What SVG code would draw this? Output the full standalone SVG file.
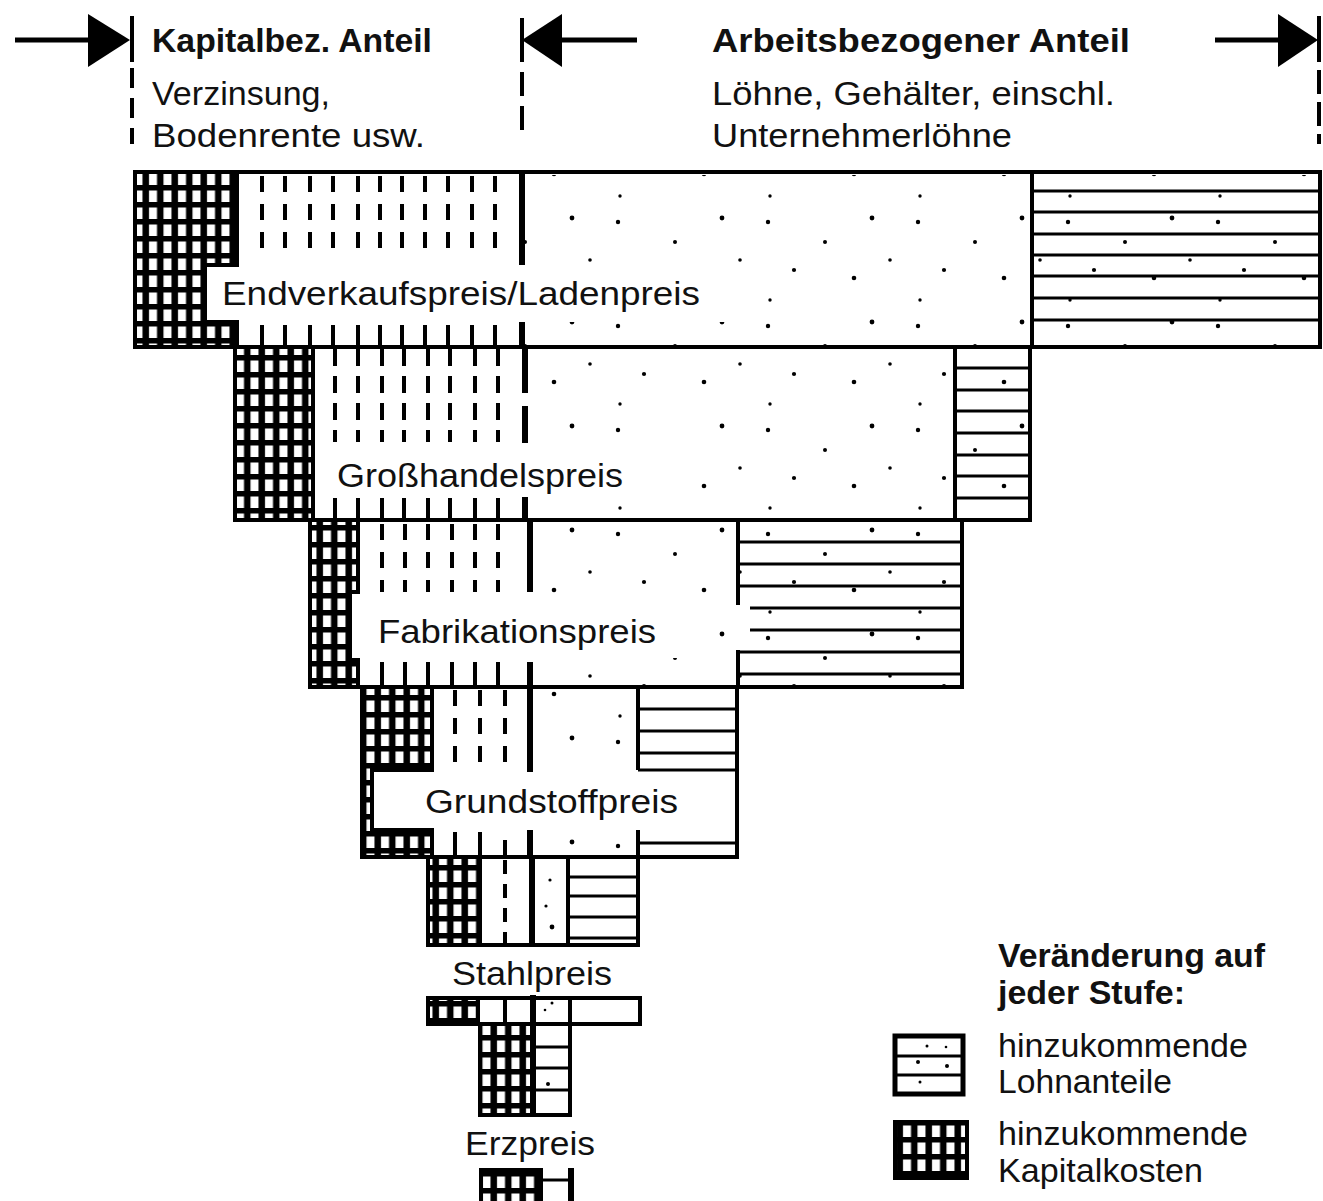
<svg xmlns="http://www.w3.org/2000/svg" width="1323" height="1201" viewBox="0 0 1323 1201">
<style>
text{font-family:"Liberation Sans",Arial,sans-serif;fill:#111;}
.t{font-size:33px;}
.b{font-size:33px;font-weight:bold;}
.lbl{font-size:34px;}
.box{fill:none;stroke:#000;stroke-width:4;}
.gridf{fill:url(#grid);stroke:#000;stroke-width:4;}
.dash{stroke:#000;stroke-width:4;stroke-dasharray:16 12;}
.dsolid{stroke:#000;stroke-width:4;}
.thick{stroke:#000;stroke-width:6;}
.vl{stroke:#000;stroke-width:4;}
.hl{stroke:#000;stroke-width:3;}
.dots{fill:url(#dots);}
.wh{fill:#fff;}
</style>
<defs>
<pattern id="grid" patternUnits="userSpaceOnUse" width="14.5" height="17">
<rect width="14.5" height="17" fill="#000"/>
<rect x="4" y="3.5" width="8" height="11.5" fill="#fff"/>
</pattern>
<pattern id="dots" patternUnits="userSpaceOnUse" width="150" height="104">
<rect width="150" height="104" fill="#fff"/>
<circle cx="18" cy="14" r="2.2" fill="#000"/>
<circle cx="75" cy="34" r="2" fill="#000"/>
<circle cx="122" cy="10" r="2.4" fill="#000"/>
<circle cx="44" cy="62" r="2.1" fill="#000"/>
<circle cx="104" cy="70" r="2.3" fill="#000"/>
<circle cx="20" cy="92" r="1.7" fill="#000"/>
<circle cx="140" cy="52" r="1.8" fill="#000"/>
</pattern>
</defs>
<rect width="1323" height="1201" fill="#fff"/>

<g id="connectors">
<line x1="15" y1="40" x2="92" y2="40" stroke="#000" stroke-width="5"/>
<polygon points="88,14 88,67 130,40" fill="#000"/>
<line x1="132" y1="16" x2="132" y2="62" stroke="#000" stroke-width="4"/>
<line x1="132" y1="68" x2="132" y2="144" stroke="#000" stroke-width="4" stroke-dasharray="20 10"/>
<line x1="558" y1="40" x2="637" y2="40" stroke="#000" stroke-width="5"/>
<polygon points="562,14 562,67 522,40" fill="#000"/>
<line x1="522" y1="18" x2="522" y2="62" stroke="#000" stroke-width="4"/>
<line x1="522" y1="72" x2="522" y2="135" stroke="#000" stroke-width="4" stroke-dasharray="24 10"/>
<line x1="1215" y1="40" x2="1282" y2="40" stroke="#000" stroke-width="5"/>
<polygon points="1278,14 1278,67 1318,40" fill="#000"/>
<line x1="1319" y1="16" x2="1319" y2="62" stroke="#000" stroke-width="4"/>
<line x1="1319" y1="70" x2="1319" y2="144" stroke="#000" stroke-width="4" stroke-dasharray="24 8"/>
</g>

<g id="header">
<text class="b" x="152" y="52" textLength="280" lengthAdjust="spacingAndGlyphs">Kapitalbez. Anteil</text>
<text class="t" x="152" y="105" textLength="178" lengthAdjust="spacingAndGlyphs">Verzinsung,</text>
<text class="t" x="152" y="147" textLength="273" lengthAdjust="spacingAndGlyphs">Bodenrente usw.</text>
<text class="b" x="712" y="52" textLength="418" lengthAdjust="spacingAndGlyphs">Arbeitsbezogener Anteil</text>
<text class="t" x="712" y="105" textLength="403" lengthAdjust="spacingAndGlyphs">Löhne, Gehälter, einschl.</text>
<text class="t" x="712" y="147" textLength="300" lengthAdjust="spacingAndGlyphs">Unternehmerlöhne</text>
</g>

<g id="stage-endverkaufspreis">
<rect x="135" y="172" width="1185" height="175" fill="#fff"/>
<rect class="dots" x="525" y="175" width="792" height="170"/>
<rect class="wh" x="205" y="266" width="520" height="56"/>
<polygon class="gridf" points="135,172 237,172 237,265 205,265 205,322 237,322 237,347 135,347"/>
<g class="dash">
<line x1="262" y1="176" x2="262" y2="250"/><line x1="285" y1="176" x2="285" y2="250"/><line x1="310" y1="176" x2="310" y2="250"/><line x1="333" y1="176" x2="333" y2="250"/><line x1="358" y1="176" x2="358" y2="250"/><line x1="380" y1="176" x2="380" y2="250"/><line x1="402" y1="176" x2="402" y2="250"/><line x1="425" y1="176" x2="425" y2="250"/><line x1="448" y1="176" x2="448" y2="250"/><line x1="472" y1="176" x2="472" y2="250"/><line x1="495" y1="176" x2="495" y2="250"/>
</g>
<g class="dsolid">
<line x1="262" y1="325" x2="262" y2="347"/><line x1="285" y1="325" x2="285" y2="347"/><line x1="310" y1="325" x2="310" y2="347"/><line x1="333" y1="325" x2="333" y2="347"/><line x1="358" y1="325" x2="358" y2="347"/><line x1="380" y1="325" x2="380" y2="347"/><line x1="402" y1="325" x2="402" y2="347"/><line x1="425" y1="325" x2="425" y2="347"/><line x1="448" y1="325" x2="448" y2="347"/><line x1="472" y1="325" x2="472" y2="347"/><line x1="495" y1="325" x2="495" y2="347"/>
</g>
<line class="thick" x1="522" y1="172" x2="522" y2="265"/>
<line class="thick" x1="522" y1="322" x2="522" y2="347"/>
<line class="vl" x1="1032" y1="172" x2="1032" y2="347"/>
<g class="hl">
<line x1="1032" y1="191" x2="1320" y2="191"/><line x1="1032" y1="212" x2="1320" y2="212"/><line x1="1032" y1="234" x2="1320" y2="234"/><line x1="1032" y1="255" x2="1320" y2="255"/><line x1="1032" y1="276" x2="1320" y2="276"/><line x1="1032" y1="298" x2="1320" y2="298"/><line x1="1032" y1="320" x2="1320" y2="320"/>
</g>
<rect class="box" x="135" y="172" width="1185" height="175"/>
<text class="lbl" x="222" y="305" textLength="478" lengthAdjust="spacingAndGlyphs">Endverkaufspreis/Ladenpreis</text>
</g>

<g id="stage-grosshandelspreis">
<rect x="235" y="347" width="795" height="173" fill="#fff"/>
<rect class="dots" x="527" y="350" width="500" height="168"/>
<rect class="wh" x="313" y="446" width="370" height="50"/>
<rect class="gridf" x="235" y="347" width="78" height="173"/>
<g class="dash" style="stroke-dasharray:17 10">
<line x1="335" y1="349" x2="335" y2="442"/><line x1="358" y1="349" x2="358" y2="442"/><line x1="382" y1="349" x2="382" y2="442"/><line x1="404" y1="349" x2="404" y2="442"/><line x1="428" y1="349" x2="428" y2="442"/><line x1="450" y1="349" x2="450" y2="442"/><line x1="475" y1="349" x2="475" y2="442"/><line x1="498" y1="349" x2="498" y2="442"/>
</g>
<g class="dsolid">
<line x1="335" y1="498" x2="335" y2="520"/><line x1="358" y1="498" x2="358" y2="520"/><line x1="382" y1="498" x2="382" y2="520"/><line x1="404" y1="498" x2="404" y2="520"/><line x1="428" y1="498" x2="428" y2="520"/><line x1="450" y1="498" x2="450" y2="520"/><line x1="475" y1="498" x2="475" y2="520"/><line x1="498" y1="498" x2="498" y2="520"/>
</g>
<line class="thick" x1="525" y1="347" x2="525" y2="393"/>
<line class="thick" x1="525" y1="406" x2="525" y2="443"/>
<line class="thick" x1="525" y1="497" x2="525" y2="520"/>
<line class="vl" x1="955" y1="347" x2="955" y2="520"/>
<g class="hl">
<line x1="955" y1="368" x2="1030" y2="368"/><line x1="955" y1="390" x2="1030" y2="390"/><line x1="955" y1="411" x2="1030" y2="411"/><line x1="955" y1="433" x2="1030" y2="433"/><line x1="955" y1="455" x2="1030" y2="455"/><line x1="955" y1="476" x2="1030" y2="476"/><line x1="955" y1="498" x2="1030" y2="498"/>
</g>
<rect class="box" x="235" y="347" width="795" height="173"/>
<text class="lbl" x="337" y="487" textLength="286" lengthAdjust="spacingAndGlyphs">Großhandelspreis</text>
</g>

<g id="stage-fabrikationspreis">
<rect x="310" y="520" width="652" height="167" fill="#fff"/>
<rect class="dots" x="532" y="523" width="428" height="162"/>
<rect class="wh" x="352" y="596" width="330" height="62"/>
<polygon class="gridf" points="310,520 358,520 358,592 350,592 350,660 358,660 358,687 310,687"/>
<g class="dash">
<line x1="382" y1="524" x2="382" y2="592"/><line x1="405" y1="524" x2="405" y2="592"/><line x1="428" y1="524" x2="428" y2="592"/><line x1="452" y1="524" x2="452" y2="592"/><line x1="475" y1="524" x2="475" y2="592"/><line x1="498" y1="524" x2="498" y2="592"/>
</g>
<g class="dsolid">
<line x1="382" y1="662" x2="382" y2="687"/><line x1="405" y1="662" x2="405" y2="687"/><line x1="428" y1="662" x2="428" y2="687"/><line x1="452" y1="662" x2="452" y2="687"/><line x1="475" y1="662" x2="475" y2="687"/><line x1="498" y1="662" x2="498" y2="687"/>
</g>
<line class="thick" x1="530" y1="520" x2="530" y2="592"/>
<line class="thick" x1="530" y1="662" x2="530" y2="687"/>
<line class="vl" x1="738" y1="520" x2="738" y2="605"/>
<line class="vl" x1="738" y1="650" x2="738" y2="687"/>
<g class="hl">
<line x1="738" y1="542" x2="962" y2="542"/><line x1="738" y1="564" x2="962" y2="564"/><line x1="738" y1="586" x2="962" y2="586"/><line x1="750" y1="608" x2="962" y2="608"/><line x1="750" y1="630" x2="962" y2="630"/><line x1="738" y1="652" x2="962" y2="652"/><line x1="738" y1="674" x2="962" y2="674"/>
</g>
<rect class="box" x="310" y="520" width="652" height="167"/>
<text class="lbl" x="378" y="643" textLength="278" lengthAdjust="spacingAndGlyphs">Fabrikationspreis</text>
</g>

<g id="stage-grundstoffpreis">
<rect x="362" y="687" width="375" height="170" fill="#fff"/>
<rect class="dots" x="533" y="690" width="104" height="165"/>
<rect class="wh" x="372" y="772" width="363" height="57"/>
<polygon class="gridf" points="362,687 432,687 432,770 372,770 372,830 432,830 432,857 362,857"/>
<g class="dash">
<line x1="455" y1="690" x2="455" y2="768"/><line x1="480" y1="690" x2="480" y2="768"/><line x1="505" y1="690" x2="505" y2="768"/>
</g>
<g class="dsolid">
<line x1="455" y1="832" x2="455" y2="857"/><line x1="480" y1="832" x2="480" y2="857"/><line x1="505" y1="840" x2="505" y2="857"/>
</g>
<line class="thick" x1="530" y1="687" x2="530" y2="772"/>
<line class="thick" x1="530" y1="830" x2="530" y2="857"/>
<line class="vl" x1="638" y1="687" x2="638" y2="770"/>
<line class="vl" x1="638" y1="830" x2="638" y2="857"/>
<g class="hl">
<line x1="638" y1="709" x2="737" y2="709"/><line x1="638" y1="731" x2="737" y2="731"/><line x1="638" y1="753" x2="737" y2="753"/><line x1="638" y1="770" x2="737" y2="770"/><line x1="638" y1="843" x2="737" y2="843"/>
</g>
<rect class="box" x="362" y="687" width="375" height="170"/>
<text class="lbl" x="425" y="813" textLength="253" lengthAdjust="spacingAndGlyphs">Grundstoffpreis</text>
</g>

<g id="stage-stahlpreis">
<rect x="428" y="857" width="210" height="88" fill="#fff"/>
<rect class="gridf" x="428" y="857" width="52" height="88"/>
<line class="dash" x1="505" y1="860" x2="505" y2="945" style="stroke-dasharray:14 10"/>
<line class="thick" x1="532" y1="857" x2="532" y2="945"/>
<circle cx="550" cy="880" r="1.6" fill="#000"/>
<circle cx="546" cy="906" r="1.6" fill="#000"/>
<circle cx="552" cy="927" r="2.4" fill="#000"/>
<line class="vl" x1="568" y1="857" x2="568" y2="945"/>
<g class="hl">
<line x1="568" y1="877" x2="638" y2="877"/><line x1="568" y1="896" x2="638" y2="896"/><line x1="568" y1="917" x2="638" y2="917"/><line x1="568" y1="938" x2="638" y2="938"/>
</g>
<rect class="box" x="428" y="857" width="210" height="88"/>
<text class="lbl" x="452" y="985" textLength="160" lengthAdjust="spacingAndGlyphs">Stahlpreis</text>
</g>

<g id="stage-erzpreis">
<rect x="428" y="998" width="212" height="26" fill="#fff"/>
<rect x="480" y="1024" width="90" height="91" fill="#fff"/>
<rect class="gridf" x="428" y="998" width="50" height="26"/>
<line class="dsolid" x1="505" y1="998" x2="505" y2="1024"/>
<circle cx="552" cy="1003" r="1.5" fill="#000"/>
<circle cx="545" cy="1010" r="1.3" fill="#000"/>
<rect class="gridf" x="480" y="1024" width="52" height="91"/>
<line class="thick" x1="533" y1="995" x2="533" y2="1115"/>
<line class="vl" x1="570" y1="998" x2="570" y2="1115"/>
<g class="hl">
<line x1="535" y1="1047" x2="570" y2="1047"/><line x1="535" y1="1068" x2="570" y2="1068"/><line x1="535" y1="1090" x2="570" y2="1090"/>
</g>
<circle cx="548" cy="1084" r="2" fill="#000"/>
<rect class="box" x="428" y="998" width="212" height="26"/>
<rect class="box" x="480" y="1024" width="90" height="91"/>
<text class="lbl" x="465" y="1155" textLength="130" lengthAdjust="spacingAndGlyphs">Erzpreis</text>
<rect class="gridf" x="481" y="1170" width="60" height="34"/>
<line class="hl" x1="541" y1="1180" x2="570" y2="1180"/>
<line class="thick" x1="571" y1="1168" x2="571" y2="1201"/>
</g>

<g id="legend">
<text class="b" x="998" y="967" textLength="267" lengthAdjust="spacingAndGlyphs">Veränderung auf</text>
<text class="b" x="998" y="1004" textLength="187" lengthAdjust="spacingAndGlyphs">jeder Stufe:</text>
<g id="legend-lohn">
<rect x="895" y="1036" width="68" height="58" fill="#fff" stroke="#000" stroke-width="5"/>
<line class="hl" x1="895" y1="1056" x2="963" y2="1056"/>
<line class="hl" x1="895" y1="1075" x2="963" y2="1075"/>
<circle cx="927" cy="1046" r="1.5" fill="#000"/>
<circle cx="946" cy="1047" r="1.3" fill="#000"/>
<circle cx="918" cy="1062" r="2" fill="#000"/>
<circle cx="947" cy="1066" r="2" fill="#000"/>
<circle cx="920" cy="1082" r="1.5" fill="#000"/>
<text class="t" x="998" y="1057" textLength="250" lengthAdjust="spacingAndGlyphs">hinzukommende</text>
<text class="t" x="998" y="1093" textLength="174" lengthAdjust="spacingAndGlyphs">Lohnanteile</text>
</g>
<g id="legend-kapital">
<rect class="gridf" x="895" y="1122" width="72" height="56"/>
<text class="t" x="998" y="1145" textLength="250" lengthAdjust="spacingAndGlyphs">hinzukommende</text>
<text class="t" x="998" y="1182" textLength="205" lengthAdjust="spacingAndGlyphs">Kapitalkosten</text>
</g>
</g>
</svg>
